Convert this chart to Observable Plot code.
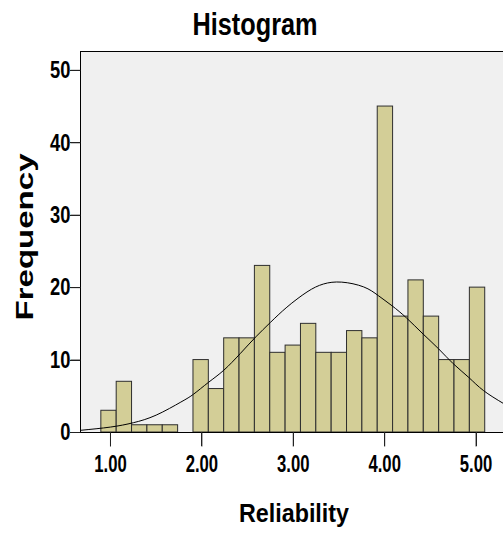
<!DOCTYPE html>
<html><head><meta charset="utf-8">
<script src="https://cdn.jsdelivr.net/npm/d3@7"></script>
<script src="https://cdn.jsdelivr.net/npm/@observablehq/plot@0.6"></script>
<style>body{margin:0;background:#fff} #chart{width:503px;height:538px;overflow:hidden}</style>
</head><body><div id="chart"></div>
<script>
// Histogram bins: lower/upper edges and frequencies
const binStarts = [0.900, 1.068, 1.236, 1.404, 1.572, 1.740, 1.908, 2.076, 2.244, 2.412, 2.580, 2.748, 2.916, 3.084, 3.252, 3.420, 3.588, 3.756, 3.924, 4.092, 4.260, 4.428, 4.596, 4.764, 4.932];
const binEnds   = [1.068, 1.236, 1.404, 1.572, 1.740, 1.908, 2.076, 2.244, 2.412, 2.580, 2.748, 2.916, 3.084, 3.252, 3.420, 3.588, 3.756, 3.924, 4.092, 4.260, 4.428, 4.596, 4.764, 4.932, 5.100];
const counts    = [3, 7, 1, 1, 1, 0, 10, 6, 13, 13, 23, 11, 12, 15, 11, 11, 14, 13, 45, 16, 21, 16, 10, 10, 20];
// Normal curve overlay
const curveX = [0.67, 1.00, 1.25, 1.50, 1.77, 1.91, 2.07, 2.24, 2.42, 2.59, 2.75, 2.93, 3.15, 3.33, 3.53, 3.77, 3.93, 4.08, 4.24, 4.42, 4.59, 4.75, 4.92, 5.08, 5.30];
const curveY = [0.3, 0.75, 1.35, 2.4, 4.2, 5.3, 6.9, 8.6, 10.9, 13.2, 15.2, 17.3, 19.4, 20.5, 20.76, 20.1, 18.9, 17.5, 15.8, 13.6, 11.55, 9.5, 7.6, 5.8, 4.0];
const xTicks = [1, 2, 3, 4, 5];
const yTicks = [0, 10, 20, 30, 40, 50];
const xDomain = [0.672, 5.30];
const yDomain = [0, 52.6];
const titleText = "Histogram";
const xLabel = "Reliability";
const yLabel = "Frequency";

const W = 503, H = 538, mL = 80, mR = 0, mT = 51, mB = 106;
const innerW = W - mL - mR, innerH = H - mT - mB;
const xTickLen = 14, yTickLen = 10; // pixels
const xTickData = xTickLen * (yDomain[1] - yDomain[0]) / innerH;
const yTickData = yTickLen * (xDomain[1] - xDomain[0]) / innerW;

const bins = binStarts.map((x1, i) => ({x1, x2: binEnds[i], count: counts[i]})).filter(d => d.count > 0);
const curve = curveX.map((x, i) => ({x, y: curveY[i]}));
const font = "'Liberation Sans', Arial, Helvetica, sans-serif";
const fmt = d3.format(".2f");

const plot = Plot.plot({
  width: W, height: H,
  marginLeft: mL, marginRight: mR, marginTop: mT, marginBottom: mB,
  style: {background: "#fff", fontFamily: font, fontWeight: "bold", color: "#000", fontSize: "22px", overflow: "visible"},
  x: {domain: xDomain, axis: null},
  y: {domain: yDomain, axis: null},
  marks: [
    Plot.frame({fill: "#f0f0f0", stroke: null}),
    Plot.rectY(bins, {x1: "x1", x2: "x2", y: "count", fill: "#d3ce97", stroke: "#2e2e2e", strokeWidth: 1}),
    Plot.line(curve, {x: "x", y: "y", curve: "natural", stroke: "#000", strokeWidth: 1, clip: true}),
    Plot.ruleX([xDomain[0]], {stroke: "#000"}),
    Plot.ruleY([yDomain[0], yDomain[1]], {stroke: "#000"}),
    // x axis tick marks (below the frame) and labels
    Plot.link(xTicks, {x1: d => d, x2: d => d, y1: yDomain[0], y2: yDomain[0] - xTickData, stroke: "#222", strokeWidth: 1}),
    Plot.text(xTicks, {x: d => d, text: d => fmt(d), frameAnchor: "bottom", lineAnchor: "top", dy: 23, fontSize: 23.5, fontWeight: "bold"}),
    // y axis tick marks (left of the frame) and labels
    Plot.link(yTicks, {y1: d => d, y2: d => d, x1: xDomain[0] - yTickData, x2: xDomain[0], stroke: "#222", strokeWidth: 1}),
    Plot.text(yTicks, {y: d => d, text: d => String(d), frameAnchor: "left", textAnchor: "end", lineAnchor: "middle", dx: -10, fontSize: 24.5, fontWeight: "bold"}),
    // titles
    Plot.text([titleText], {text: d => d, frameAnchor: "top", textAnchor: "middle", lineAnchor: "middle", dx: -37, dy: -26.5, fontSize: 32, fontWeight: "bold"}),
    Plot.text([xLabel], {text: d => d, frameAnchor: "bottom", textAnchor: "middle", lineAnchor: "middle", dx: 2, dy: 81.5, fontSize: 25.5, fontWeight: "bold"}),
    Plot.text([yLabel], {text: d => d, frameAnchor: "left", textAnchor: "middle", lineAnchor: "middle", rotate: -90, dx: -55.5, dy: -5, fontSize: 24.5, fontWeight: "bold"})
  ]
});
document.getElementById("chart").append(plot);

// Axis tick marks also drawn directly from Plot's scales (outside the frame)
const sx = plot.scale("x"), sy = plot.scale("y");
const svg = d3.select(plot);
const gT = svg.append("g").attr("stroke", "#222").attr("stroke-width", 1).attr("shape-rendering", "crispEdges");
const xb = sy.apply(yDomain[0]), xl = sx.apply(xDomain[0]);
xTicks.forEach(v => { const px = Math.round(sx.apply(v)) + 0.5; gT.append("line").attr("x1", px).attr("x2", px).attr("y1", xb).attr("y2", xb + xTickLen); });
yTicks.forEach(v => { const py = Math.round(sy.apply(v)) + 0.5; gT.append("line").attr("x1", xl - yTickLen).attr("x2", xl).attr("y1", py).attr("y2", py); });

// Condensed rendering of the text (SPSS-like narrow bold font)
function fit(el, target) {
  el.setAttribute("textLength", target.toFixed(1));
  el.setAttribute("lengthAdjust", "spacingAndGlyphs");
}
plot.querySelectorAll("text").forEach(t => {
  const s = t.textContent;
  if (s === titleText) fit(t, 125);
  else if (s === xLabel) fit(t, 110);
  else if (s === yLabel) fit(t, 167);
  else if (xTicks.map(fmt).includes(s)) fit(t, t.getComputedTextLength() * 0.71);
  else if (yTicks.map(String).includes(s)) fit(t, t.getComputedTextLength() * 0.75);
});
</script>
</body></html>
